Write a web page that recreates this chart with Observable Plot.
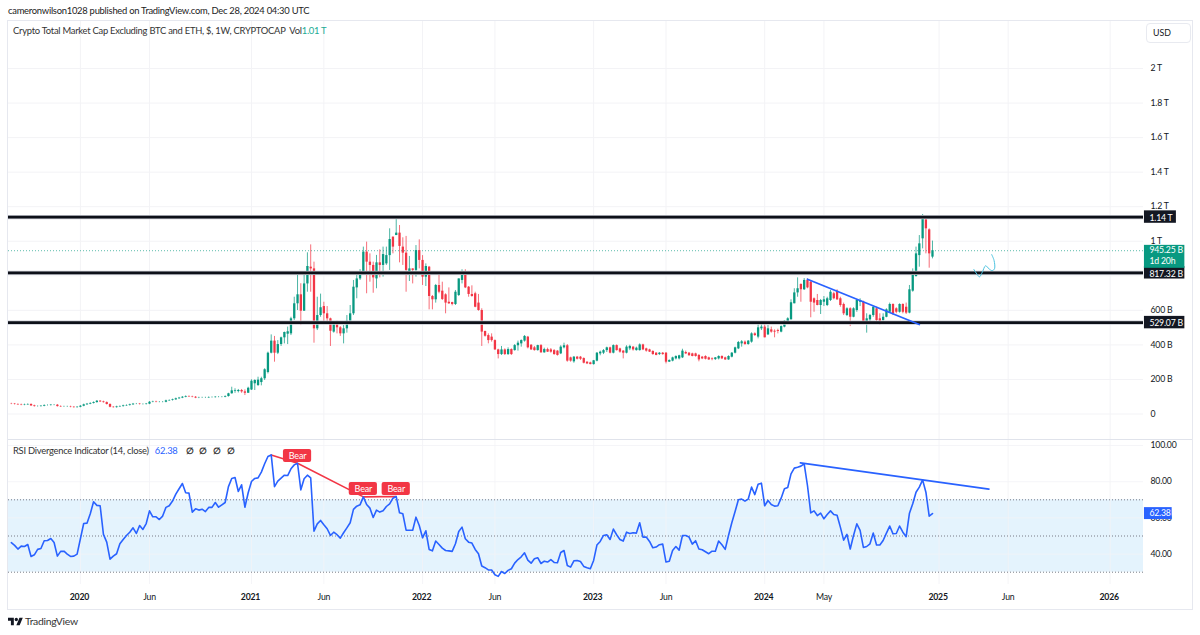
<!DOCTYPE html>
<html>
<head>
<meta charset="utf-8">
<script src="https://cdn.jsdelivr.net/npm/d3@7"></script>
<script src="https://cdn.jsdelivr.net/npm/@observablehq/plot@0.6"></script>
<style>
html,body{margin:0;padding:0;background:#fff;width:1200px;height:635px;overflow:hidden;font-family:Lato,sans-serif;color:#131722}
.abs{position:absolute;white-space:pre}
</style>
</head>
<body>
<div class="abs" id="head" style="left:8px;top:5px;font-size:9.4px;letter-spacing:-.25px;color:#222">cameronwilson1028 published on TradingView.com, Dec 28, 2024 04:30 UTC</div>
<div class="abs" style="left:7px;top:20px;width:1184px;height:588px;border:1px solid #e6e8ef;box-sizing:content-box"></div>
<div class="abs" style="left:8px;top:439px;width:1184px;height:1px;background:#e0e3eb"></div>
<div id="chart"></div>
<div class="abs" id="legend" style="left:13px;top:25px;font-size:9.4px;letter-spacing:-.25px;color:#333">Crypto Total Market Cap Excluding BTC and ETH, $, 1W, CRYPTOCAP  Vol<span style="color:#22ab94">1.01 T</span></div>
<div class="abs" id="rsiLegend" style="left:13px;top:445px;font-size:9.4px;letter-spacing:-.25px;color:#333">RSI Divergence Indicator (14, close)<span style="color:#2962ff;margin-left:6px">62.38</span><b style="margin-left:8px">∅</b><b style="margin-left:6px">∅</b><b style="margin-left:6px">∅</b><b style="margin-left:6px">∅</b></div>
<div class="abs" style="left:1146px;top:23px;width:43px;height:18px;border:1px solid #e8eaf0;border-radius:4px;font-size:8.8px;line-height:18px;text-indent:6px;background:#fff">USD</div>
<svg class="abs" style="left:8px;top:616px" width="15" height="12" viewBox="0 0 36 28"><path fill="#131722" d="M14 22H7V11H0V4h14v18zM28 22h-8l7.5-18h8L28 22z"/><circle fill="#131722" cx="20" cy="8" r="4"/></svg>
<div class="abs" style="left:25px;top:615px;font-size:10.4px;letter-spacing:-.3px;color:#333">TradingView</div>
<script>
// Weekly candles, values in billions of dollars, first bar is the week of 2019-08-12
const firstWeek = "2019-08-12";
const opens = [
58,57,55,53,51,53,55,47,43,43,45,49,49,51,51,43,41,41,41,39,37,39,45,53,57,61,66,74,70,66,55,39,37,41,43,47,49,53,57,57,55,55,57,68,70,68,68,68,76,78,82,88,92,97,101,99,97,92,93,93,93,95,95,97,97,97,
101,117,132,130,136,128,120,139,175,165,182,204,240,352,422,352,402,441,462,464,551,638,690,595,753,850,840,493,570,622,580,551,474,532,499,464,493,537,580,730,782,808,937,879,860,782,875,860,869,917,1024,1033,1047,
966,931,802,840,831,946,889,792,850,680,
661,744,711,690,647,645,634,686,773,808,
734,692,696,642,599,478,454,445,425,371,
344,371,344,373,367,395,406,422,445,398,
383,367,396,354,373,371,367,364,348,383,
395,325,302,329,329,321,300,296,286,306,
348,352,367,383,352,396,377,364,352,377,
387,367,367,400,377,371,362,352,344,352,
352,300,306,319,319,325,356,352,348,348,
339,329,333,325,319,315,319,333,325,313,
329,352,377,406,416,402,416,464,445,493,
503,458,487,479,483,474,503,532,545,638,
701,750,719,773,763,667,657,628,647,628,
657,696,711,667,634,570,609,560,599,647,
647,532,545,570,609,551,541,560,589,634,
609,589,634,618,584,711,796,917,1014,1124,
1066,908];
const closes = [
57,55,53,51,53,55,47,43,43,45,49,49,51,51,43,41,41,41,39,37,39,45,53,57,61,66,74,70,66,55,39,37,41,43,47,49,53,57,57,55,55,57,68,70,68,68,68,76,78,82,88,92,97,101,99,97,92,93,93,93,95,95,97,97,97,101,
117,134,136,136,128,120,149,190,194,196,204,256,352,422,352,402,441,472,476,551,638,690,595,753,854,840,493,570,615,580,551,479,532,499,464,493,537,580,734,782,808,937,879,860,788,875,860,923,917,1010,966,1047,970,
931,831,840,831,946,889,792,854,680,661,
744,705,663,642,638,634,705,782,808,730,
692,680,618,599,474,450,425,425,371,344,
371,344,373,344,396,410,425,449,383,371,
367,396,354,373,358,358,344,339,387,395,
306,306,329,317,317,294,290,286,308,352,
358,367,383,352,396,367,358,352,387,391,
371,381,400,371,364,358,344,339,352,344,
300,310,325,333,337,364,348,337,333,333,
313,319,317,313,315,325,333,319,313,333,
352,383,414,418,402,422,464,454,499,503,
441,493,474,474,478,506,537,551,644,701,
725,719,773,730,647,642,628,657,661,667,
705,667,661,628,580,609,560,609,657,657,
532,551,570,618,541,537,560,603,634,580,
589,634,589,584,719,808,927,985,1140,1072,
927,945.25];
const highs = [
62,61,59,57,57,59,59,51,47,49,53,53,55,55,55,47,45,45,45,43,43,49,57,61,65,70,78,78,74,70,59,43,45,47,51,53,57,61,61,61,59,61,72,74,74,72,72,80,82,86,92,96,101,105,105,103,101,97,97,97,99,99,101,101,101,105,
120,155,146,142,142,140,155,198,198,213,213,262,358,458,449,425,445,474,503,560,676,815,754,815,933,979,879,676,694,647,622,555,535,537,506,512,570,628,773,808,836,966,995,927,879,918,950,966,966,1072,1024,1130,1091,
1020,1028,912,840,975,1008,917,869,854,686,
750,811,763,696,730,647,715,782,835,835,
738,742,705,692,609,479,464,464,429,375,
391,377,383,377,402,422,429,454,449,402,
391,398,402,381,381,379,373,367,395,410,
402,329,333,333,333,325,302,300,310,356,
364,373,387,387,400,400,381,367,395,398,
391,387,406,404,381,375,366,356,356,356,
356,313,329,337,340,375,364,356,352,352,
344,333,337,329,325,327,337,337,329,337,
356,387,420,425,423,425,470,470,518,532,
532,512,503,487,491,510,541,557,661,725,
788,753,784,782,773,672,692,663,680,676,
715,705,719,676,642,615,615,615,661,667,
653,580,576,622,618,580,580,609,642,638,
615,638,638,642,744,840,966,1033,1155,1130,
1072,1001];
const lows = [
54,52,50,48,48,50,44,40,40,40,42,46,46,48,40,38,38,38,36,34,34,36,42,50,54,58,63,67,63,52,36,34,34,38,40,44,46,50,54,52,52,52,54,65,65,65,65,65,73,75,79,85,89,94,96,94,89,89,90,90,90,92,92,94,94,94,
98,115,120,122,120,107,120,136,136,159,163,194,232,348,300,344,391,406,402,454,541,599,512,595,705,705,410,483,560,518,526,391,468,464,449,406,468,570,570,667,773,811,696,763,699,725,788,792,860,831,927,1033,875,
860,705,767,753,792,840,744,738,603,603,
642,696,657,580,634,626,628,680,753,726,
676,676,615,595,391,445,406,416,368,319,
339,339,339,339,364,364,387,416,377,368,
364,364,352,352,356,352,340,335,344,377,
300,300,294,313,310,290,286,285,283,302,
337,344,356,348,348,364,352,319,348,367,
364,364,364,367,358,356,340,337,339,340,
290,298,302,313,313,321,344,335,331,329,
302,315,313,310,308,310,313,315,310,311,
325,348,373,387,398,398,410,449,435,483,
441,454,468,441,464,470,499,528,545,638,
676,647,715,725,557,589,626,576,622,622,
651,661,657,618,570,564,506,557,589,622,
526,468,532,560,532,514,537,557,584,570,
580,584,580,576,580,705,792,850,956,927,
844,898];
const rsi = [
46.3,44.8,42.8,44.4,44.2,45.3,38.7,39.6,42.6,43.1,47.4,47.5,48.6,46.4,38.9,41.5,41.6,40.0,38.7,38.9,
40.0,48.5,56.9,57.1,62.3,68.9,66.9,66.7,50.9,46.6,37.2,38.9,40.2,45.7,48.1,50.3,52.1,54.5,51.4,55.8,
53.6,56.9,63.9,60.6,60.6,59.1,61.0,65.8,66.7,69.3,73.1,76.1,79.0,73.9,73.7,63.2,65.0,64.3,64.8,63.5,
65.8,65.8,68.5,65.9,67.2,68.5,77.3,81.8,82.3,74.6,78.3,65.9,73.9,80.1,81.8,82.1,85.3,89.9,93.9,94.8,
77.3,80.3,82.0,83.6,83.4,87.1,89.3,90.2,75.5,81.6,83.6,82.1,52.7,56.7,58.6,56.2,54.0,50.3,52.1,50.7,
48.8,51.8,54.5,57.3,64.7,66.5,67.2,71.6,67.4,65.4,60.2,64.3,63.2,63.9,66.3,67.8,70.9,71.8,62.8,62.3,
53.2,53.2,53.2,60.4,55.8,49.0,52.9,42.6,41.8,47.2,45.3,43.3,42.0,41.8,41.5,45.7,52.5,54.9,48.5,46.6,
46.1,42.6,40.2,33.4,32.5,31.3,31.2,28.6,27.7,30.4,29.3,31.0,31.9,35.0,37.0,38.5,40.7,36.7,35.0,37.4,
38.0,34.8,36.1,35.6,37.0,35.4,35.2,40.9,42.0,33.7,32.8,36.3,36.5,35.9,33.2,32.5,31.9,36.5,45.0,47.0,
50.3,50.7,48.1,53.8,50.7,48.1,47.2,52.1,51.4,51.8,51.6,57.3,49.4,49.4,47.0,43.5,43.9,45.2,45.5,35.6,
36.0,42.0,44.2,42.2,50.3,50.3,49.4,45.5,47.4,42.8,42.4,41.3,40.2,41.6,41.6,47.2,45.2,42.6,50.3,57.3,
63.5,70.0,70.4,69.3,70.4,77.0,72.9,78.6,79.2,66.7,69.6,67.4,66.5,66.7,70.9,76.1,76.8,84.3,87.5,88.0,
88.6,89.9,77.9,62.8,63.9,61.3,62.6,59.5,61.9,63.9,61.9,61.5,54.9,47.7,50.9,42.8,50.3,56.7,53.1,43.7,
44.2,45.7,51.6,45.0,45.0,47.5,51.6,55.5,51.2,51.4,55.5,52.1,49.6,62.6,67.8,74.2,77.0,81.0,74.2,61.0,62.38];

// Axis ticks
const yearTicks = ["2020-01-06","2021-01-04","2022-01-03","2023-01-02","2024-01-01","2025-01-06","2026-01-05"];
const monthTicks = ["2020-06-01","2021-06-07","2022-06-06","2023-06-05","2024-05-06","2025-06-02"];
const monthLabels = ["Jun","Jun","Jun","Jun","May","Jun"];
const priceGrid = [0,200,400,600,800,1000,1200,1400,1600,1800,2000];
const priceTicks = [0,200,400,600,1000,1200,1400,1600,1800,2000];
const rsiTicks = [40,60,80,100];
const rsiLevels = [70,50,30];

// Drawn levels and annotations
const levels = [1140,817.32,529.07];
const levelLabels = ["1.14 T","817.32 B","529.07 B"];
const lastPrice = 945.25;
const wedgeDates = ["2024-04-01","2024-11-25"];
const wedgeValues = [780,518];
const scribbleDates = ["2025-03-21","2025-03-28","2025-04-02","2025-04-08","2025-04-15","2025-04-22","2025-04-29","2025-05-04","2025-05-03","2025-04-28"];
const scribbleValues = [837,808,794,821,858,841,830,841,889,923];
const rsiTrendDates = ["2024-03-17","2025-04-22"];
const rsiTrendValues = [90.4,75.9];
const bearBars = [79,87,107,117];
const bearLabelBars = [87,107,117];
const bearTops = [97.8,79.6,79.6];
const bearBottoms = [90.6,72.4,72.4];

const up = "#089981", down = "#f23645", blue = "#2962ff", ink = "#0d1018", gridC = "#f3f3f6";
const font = "Lato,sans-serif";
const date = s => new Date(s);
const day = d3.utcDay;
const bars = closes.map((c,i) => ({date: day.offset(date(firstWeek), 7*i), open: opens[i], close: c, high: highs[i], low: lows[i], rsi: rsi[i]}));
bars.forEach(d => d.col = d.close >= d.open ? up : down);
const xDomain = [date("2019-08-06"), date("2026-03-17")];
const tagStart = day.offset(xDomain[1], 2);
const tag = (label,value,above,below,fill) => ({label,value,lo:value-below,hi:value+above,fill,x1:tagStart,x2:day.offset(tagStart,14+9*label.length)});
const priceTags = levels.map((v,i) => tag(levelLabels[i],v,36,36,"#131722"));
const greenTag = [tag("945.25 B",lastPrice,31,102,up)];
const rsiTag = [tag("62.38",62.38,3.3,3.3,blue)];
const yearDates = yearTicks.map(date);
const monthDates = monthTicks.map(date);
const allTicks = [...yearDates, ...monthDates];
const line = (ds,vs) => ds.map((d,i) => ({d:date(d),v:vs[i]}));
const bearLine = [...bearBars.map(i => ({d:bars[i].date, v:bars[i].rsi})), {d:bars[117].date, v:bars[107].rsi}];
const bearLabels = bearLabelBars.map((b,i) => ({x:bars[b].date, x1:day.offset(bars[b].date,-30), x2:day.offset(bars[b].date,30), top:bearTops[i], bottom:bearBottoms[i], mid:(bearTops[i]+bearBottoms[i])/2}));
const band = [{lo:30,hi:70}];

const axisFont = 8.7;
const baseStyle = {background:"transparent",overflow:"visible",fontFamily:font,fontSize:"10px",letterSpacing:"-.2px",position:"absolute",left:"0"};

const main = Plot.plot({
  width:1200,height:418,marginLeft:8,marginRight:57,marginTop:0,marginBottom:0,
  style:{...baseStyle,top:"21px"},
  x:{type:"utc",domain:xDomain,axis:null},
  y:{domain:[0,2000],range:[392.5,47]},
  color:{type:"identity"},
  marks:[
    Plot.ruleX(allTicks,{stroke:gridC}),
    Plot.ruleY(priceGrid,{stroke:gridC}),
    Plot.ruleY([lastPrice],{stroke:up,strokeWidth:1,strokeDasharray:"1,2",strokeOpacity:.65}),
    Plot.ruleX(bars,{x:"date",y1:"low",y2:"high",stroke:"col",strokeWidth:1,strokeOpacity:.72}),
    Plot.ruleX(bars,{x:"date",y1:"open",y2:"close",stroke:"col",strokeWidth:2.3}),
    Plot.ruleY(levels,{stroke:"#c9cbd3",strokeWidth:4.2}),
    Plot.ruleY(levels,{stroke:ink,strokeWidth:2.8}),
    Plot.line(line(wedgeDates,wedgeValues),{x:"d",y:"v",stroke:blue,strokeWidth:1.8}),
    Plot.line(line(scribbleDates,scribbleValues),{x:"d",y:"v",stroke:"#4cc3e0",strokeWidth:1,curve:"catmull-rom"}),
    Plot.axisY({ticks:priceTicks,anchor:"right",tickSize:0,tickPadding:7,label:null,fill:"#131722",fontSize:axisFont,
      tickFormat:d=>d===0?"0":d<1000?`${d} B`:`${d/1000} T`}),
    Plot.rect(priceTags,{x1:"x1",x2:"x2",y1:"lo",y2:"hi",fill:"fill"}),
    Plot.rect(greenTag,{x1:"x1",x2:"x2",y1:"lo",y2:"hi",fill:"fill"}),
    Plot.text(priceTags,{x:"x1",y:"value",text:"label",textAnchor:"start",dx:5,dy:1,fill:"#fff",fontSize:axisFont}),
    Plot.text(greenTag,{x:"x1",y:"value",text:"label",textAnchor:"start",dx:5,dy:-1,fill:"#fff",fontSize:axisFont}),
    Plot.text(greenTag,{x:"x1",y:"value",text:()=>"1d 20h",textAnchor:"start",dx:5,dy:10,fill:"#fff",fontSize:axisFont})
  ]
});

const pane = Plot.plot({
  width:1200,height:169,marginLeft:8,marginRight:57,marginTop:0,marginBottom:25,
  style:{...baseStyle,top:"440px"},
  x:{type:"utc",domain:xDomain},
  y:{domain:[30,100],range:[131.7,5]},
  color:{type:"identity"},
  marks:[
    Plot.rect(band,{y1:"lo",y2:"hi",fill:"#e3f2fd",fillOpacity:.95}),
    Plot.ruleX(allTicks,{stroke:gridC,strokeOpacity:.8}),
    Plot.ruleY(rsiTicks,{stroke:gridC,strokeOpacity:.8}),
    Plot.ruleY(rsiLevels,{stroke:"#787b86",strokeWidth:1,strokeDasharray:"1,2"}),
    Plot.line(bearLine,{x:"d",y:"v",stroke:down,strokeWidth:1.6}),
    Plot.line(bars,{x:"date",y:"rsi",stroke:blue,strokeWidth:1.6}),
    Plot.line(line(rsiTrendDates,rsiTrendValues),{x:"d",y:"v",stroke:blue,strokeWidth:1.8}),
    Plot.rect(bearLabels,{x1:"x1",x2:"x2",y1:"bottom",y2:"top",fill:down,rx:2}),
    Plot.text(bearLabels,{x:"x",y:"mid",text:()=>"Bear",fill:"#fff",fontSize:9}),
    Plot.axisY({ticks:rsiTicks,anchor:"right",tickSize:0,tickPadding:7,label:null,fill:"#131722",fontSize:axisFont,tickFormat:d=>d.toFixed(2)}),
    Plot.rect(rsiTag,{x1:"x1",x2:"x2",y1:"lo",y2:"hi",fill:"fill"}),
    Plot.text(rsiTag,{x:"x1",y:"value",text:"label",textAnchor:"start",dx:5,fill:"#fff",fontSize:axisFont}),
    Plot.axisX({ticks:yearDates,tickFormat:d3.utcFormat("%Y"),anchor:"bottom",tickSize:0,tickPadding:9,dx:-1,label:null,fontWeight:"bold",fill:"#131722",fontSize:axisFont}),
    Plot.axisX({ticks:monthDates,tickFormat:(d,i)=>monthLabels[i],anchor:"bottom",tickSize:0,tickPadding:9,label:null,fill:"#131722",fontSize:axisFont})
  ]
});
document.getElementById("chart").append(main, pane);
</script>
</body>
</html>
